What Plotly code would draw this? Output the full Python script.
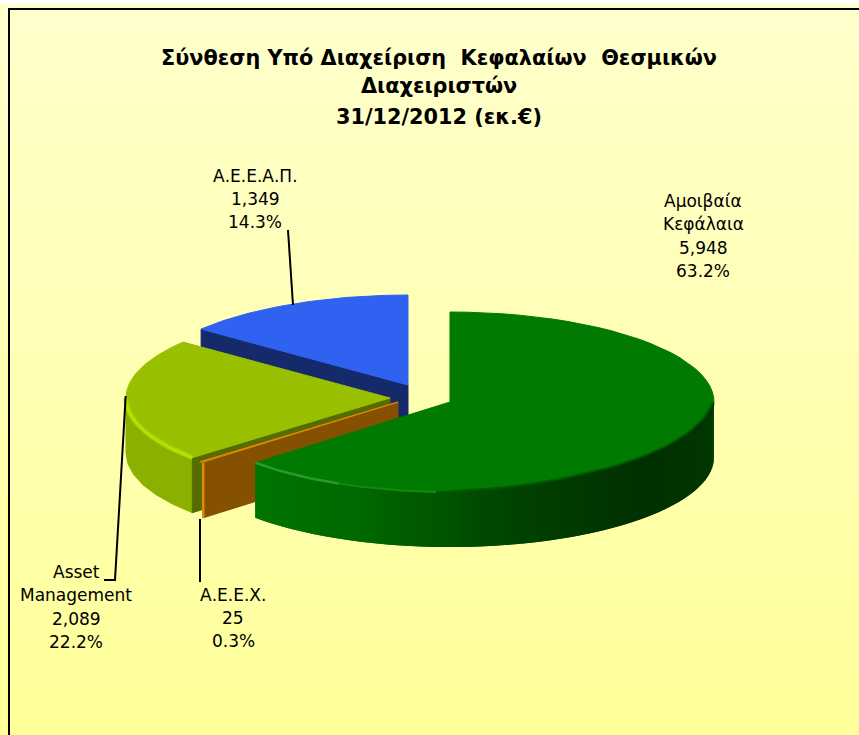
import math
import plotly.graph_objects as go

# ---- data ----
title_lines = ["Σύνθεση Υπό Διαχείριση\u00a0\u00a0Κεφαλαίων\u00a0\u00a0Θεσμικών", "Διαχειριστών", "31/12/2012 (εκ.€)"]
categories = [["Αμοιβαία", "Κεφάλαια"], ["Α.Ε.Ε.Χ."], ["Asset", "Management"], ["Α.Ε.Ε.Α.Π."]]
values = [5948, 25, 2089, 1349]
percents = ["63.2%", "0.3%", "22.2%", "14.3%"]

# ---- style / layout ----
W, H = 859, 735
RX, RY, DEPTH = 264, 90, 55
centers = [(450, 402), (398, 402), (390, 398), (408, 385)]
top_col = ["#007A00", "#E08A00", "#99C000", "#3062F2"]
radial_col = [None, "#855000", "#566C00", "#142A6B"]
outer_col = [None, "#855000", "#8CB000", "#142A6B"]
green_wall_stops = [(0.0, (0, 58, 0)), (0.32, (0, 48, 0)), (0.55, (0, 66, 0)), (0.8, (0, 104, 0)), (1.0, (0, 116, 0))]
bevel_stops = [(90, 0), (97, 10), (150, 6), (185, 0)]
label_pos = [(703, 236), (233, 618), (76, 607), (255, 199)]
LINE_PITCH = 23.3
leaders = [[(288, 230), (293, 305)],
           [(200, 519), (200, 582)],
           [(125.7, 396), (116.7, 550), (115, 580), (104, 580)]]

total = sum(values)
spans = []
a = 0.0
for v in values:
    spans.append((a, a + 360 * v / total))
    a += 360 * v / total


def pt(c, deg, dy=0):
    r = math.radians(deg)
    return c[0] + RX * math.sin(r), c[1] - RY * math.cos(r) + dy


def arc(c, a0, a1, dy=0, n=60):
    return [pt(c, a0 + (a1 - a0) * i / n, dy) for i in range(n + 1)]


def lift(deg):
    if deg >= bevel_stops[-1][0]:
        return 0
    for (d0, b0), (d1, b1) in zip(bevel_stops, bevel_stops[1:]):
        if d0 <= deg <= d1:
            return b0 + (b1 - b0) * (deg - d0) / (d1 - d0)
    return bevel_stops[0][1]


fig = go.Figure()


def poly(points, color, width=1):
    xs = [p[0] for p in points] + [points[0][0]]
    ys = [p[1] for p in points] + [points[0][1]]
    fig.add_trace(go.Scatter(x=xs, y=ys, mode="lines", fill="toself", fillcolor=color,
                             line=dict(color=color, width=width), hoverinfo="skip", showlegend=False))


def stroke(points, color, width):
    fig.add_trace(go.Scatter(x=[p[0] for p in points], y=[p[1] for p in points], mode="lines",
                             line=dict(color=color, width=width), hoverinfo="skip", showlegend=False))


# background gradient
rows = 64
ys = [10 + (H + 5 - 10) * i / (rows - 1) for i in range(rows)]
fig.add_trace(go.Heatmap(x=[9, W + 20], y=ys, z=[[i, i] for i in range(rows)], zmin=0, zmax=rows - 1,
                         colorscale=[[0, "#FFFFCC"], [1, "#FFFF99"]], showscale=False, hoverinfo="skip"))


def radial_wall(i, deg):
    c = centers[i]
    r = pt(c, deg)
    poly([c, r, (r[0], r[1] + DEPTH), (c[0], c[1] + DEPTH)], radial_col[i])


def outer_wall(i, a0, a1, color):
    c = centers[i]
    poly(arc(c, a0, a1, 0, 6) + arc(c, a1, a0, DEPTH, 6), color)


def top(i):
    c = centers[i]
    poly([c] + arc(c, *spans[i]), top_col[i])


# blue
radial_wall(3, spans[3][0])
top(3)
# yellow-green
outer_wall(2, spans[2][0], 270, outer_col[2])
radial_wall(2, spans[2][0])
top(2)
stroke(arc(centers[2], spans[2][0], 270, 0), "#A6D400", 5)
stroke(arc(centers[2], spans[2][0], 270, 0), "#B4E600", 2)
# orange
radial_wall(1, spans[1][0])
top(1)
stroke([pt(centers[1], spans[1][0]), (pt(centers[1], spans[1][0])[0], pt(centers[1], spans[1][0])[1] + DEPTH)], "#E08A00", 2.5)
# green top, then the outer wall with a stepped gradient and a bevel on its upper edge
top(0)
seg = 120
a0, a1 = 90, spans[0][1]
step = (a1 - a0) / seg
for s in range(seg):
    t = s / (seg - 1)
    for (t0, c0), (t1, c1) in zip(green_wall_stops, green_wall_stops[1:]):
        if t0 <= t <= t1:
            f = (t - t0) / (t1 - t0)
            col = "rgb(%d,%d,%d)" % tuple(round(c0[k] + (c1[k] - c0[k]) * f) for k in range(3))
            break
    d0 = a0 + step * s
    d1 = min(a1, d0 + 2 * step)
    up = [pt(centers[0], d0 + (d1 - d0) * i / 3, -lift(d0 + (d1 - d0) * i / 3)) for i in range(4)]
    poly(up + arc(centers[0], d1, d0, DEPTH, 3), col, 0)
# soft edge between top and wall, and rim highlight
stroke([pt(centers[0], 93 + i, -lift(93 + i)) for i in range(0, 90, 3)], "#005A00", 2)
stroke(arc(centers[0], 205, spans[0][1], 0, 20), "#2A9A2A", 2.5)
stroke(arc(centers[0], 183, 205, 0, 20), "#108A10", 2)

# leader lines
for pts in leaders:
    stroke(pts, "#000000", 2)

# frame
shapes = [dict(type="line", xref="x", yref="y", x0=9, x1=9, y0=9, y1=H + 5, line=dict(color="#000", width=2)),
          dict(type="line", xref="x", yref="y", x0=8, x1=W + 5, y0=9, y1=9, line=dict(color="#000", width=2))]

ann = []
for text, y in zip(title_lines, [58, 86, 117]):
    ann.append(dict(x=438.5, y=y, xref="x", yref="y", text="<b>%s</b>" % text, showarrow=False,
                    font=dict(family="DejaVu Sans", size=20.8, color="#000")))
for cat, v, p, (x, y) in zip(categories, values, percents, label_pos):
    lines = cat + [format(v, ","), p]
    for k, line in enumerate(lines):
        ann.append(dict(x=x, y=y + (k - (len(lines) - 1) / 2) * LINE_PITCH, xref="x", yref="y", text=line,
                        showarrow=False, font=dict(family="DejaVu Sans", size=17, color="#000")))

fig.update_layout(width=W, height=H, autosize=False, margin=dict(l=0, r=0, t=0, b=0),
                  paper_bgcolor="#FFFFFF", plot_bgcolor="rgba(0,0,0,0)", showlegend=False,
                  xaxis=dict(range=[0, W], visible=False, fixedrange=True),
                  yaxis=dict(range=[H, 0], visible=False, fixedrange=True),
                  shapes=shapes, annotations=ann)
fig.write_html("out.html", config=dict(displayModeBar=False),
               post_script="document.body.style.margin='0';document.documentElement.style.overflow='hidden';")
